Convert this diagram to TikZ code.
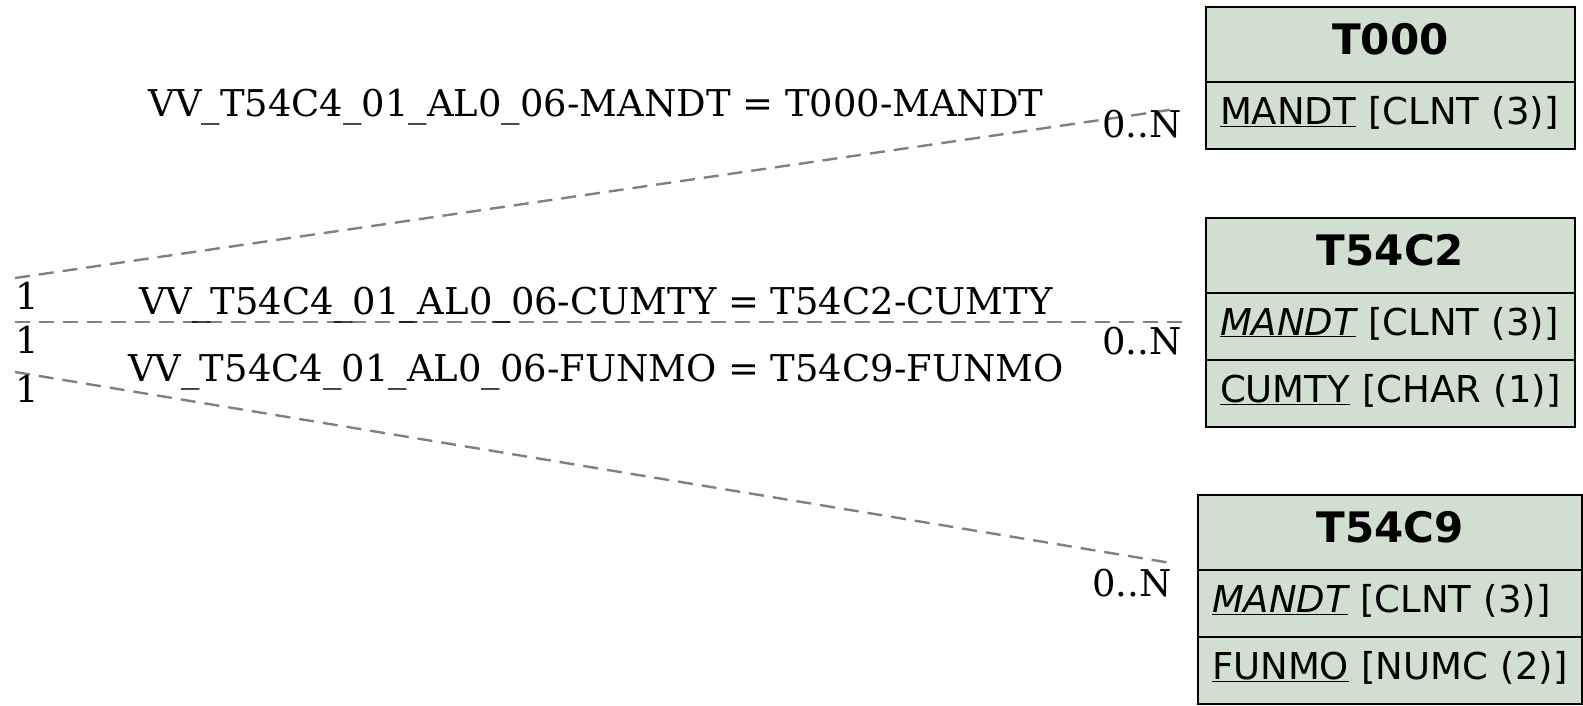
\documentclass[tikz,border=0pt]{standalone}
\usepackage{fontspec}
\setmainfont{DejaVu Serif}
\newfontfamily\tabfont{DejaVu Sans}
\usetikzlibrary{positioning}
\definecolor{tabfill}{RGB}{208,223,208}
\definecolor{relgray}{RGB}{128,128,128}

\begin{document}
\begin{tikzpicture}[x=1pt, y=-1pt, node distance=0pt,
    tabhead/.style={draw, fill=tabfill, line width=2pt, outer sep=0pt, minimum width=369pt,
        minimum height=75pt, text depth=11pt, font=\tabfont\bfseries\fontsize{42}{48}\selectfont},
    tabrow/.style={draw, fill=tabfill, line width=2pt, outer sep=0pt, minimum height=67pt,
        text width=341pt, inner xsep=14pt, align=left, text depth=10pt,
        font=\tabfont\fontsize{37}{44}\selectfont},
    rel/.style={draw=relgray, line width=2.4pt, dash pattern=on 15pt off 9pt},
    lbl/.style={font=\fontsize{36.9}{44}\selectfont, inner sep=0pt}]
    \useasboundingbox (0,0) rectangle (1583,706);

    % Tables {T000, T54C2, T54C9}
    \node [tabhead]                                  (t000)    at (1390.5,44.5) {T000};
    \node [tabrow]                 [below=of t000]   (t000r1)  {\underline{MANDT} [CLNT (3)]};

    \node [tabhead]                                  (t54c2)   at (1390.5,255)  {T54C2};
    \node [tabrow]                 [below=of t54c2]  (t54c2r1) {\underline{\itshape MANDT} [CLNT (3)]};
    \node [tabrow]                 [below=of t54c2r1](t54c2r2) {\underline{CUMTY} [CHAR (1)]};

    \node [tabhead, minimum width=384pt]             (t54c9)   at (1390,532.5)  {T54C9};
    \node [tabrow, text width=356pt] [below=of t54c9]  (t54c9r1) {\underline{\itshape MANDT} [CLNT (3)]};
    \node [tabrow, text width=356pt] [below=of t54c9r1](t54c9r2) {\underline{FUNMO} [NUMC (2)]};

    % Line ends
    \coordinate (l1a) at (15,278);  \coordinate (l1b) at (1176,109);
    \coordinate (l2a) at (15,322);  \coordinate (l2b) at (1185,322);
    \coordinate (l3a) at (15,372);  \coordinate (l3b) at (1171,563);

    % Paths
    \path [rel] (l1a) edge (l1b);
    \path [rel] (l2a) edge (l2b);
    \path [rel] (l3a) edge (l3b);

    % Labels
    \node [lbl, anchor=base] (rel1) at (596,117) {VV\_T54C4\_01\_AL0\_06-MANDT = T000-MANDT};
    \node [lbl, anchor=base] (rel2) at (596,314) {VV\_T54C4\_01\_AL0\_06-CUMTY = T54C2-CUMTY};
    \node [lbl, anchor=base] (rel3) at (596,381) {VV\_T54C4\_01\_AL0\_06-FUNMO = T54C9-FUNMO};

    \node [lbl] (one1) at (27,296)  {1};
    \node [lbl] (one2) at (27,340)  {1};
    \node [lbl] (one3) at (27,389)  {1};
    \node [lbl] (many1) at (1142,124) {0..N};
    \node [lbl] (many2) at (1142,341) {0..N};
    \node [lbl] (many3) at (1132,583) {0..N};
\end{tikzpicture}
\end{document}
